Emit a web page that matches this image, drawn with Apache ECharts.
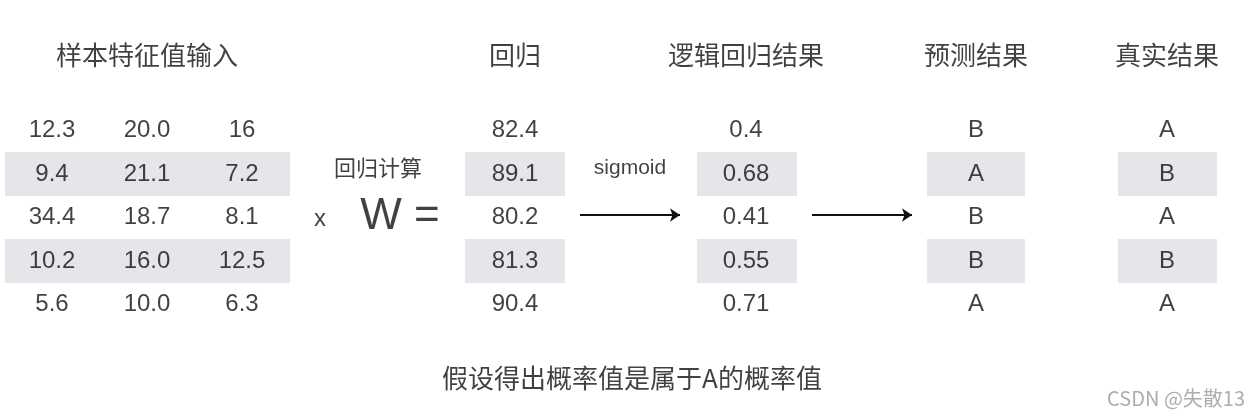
<!DOCTYPE html>
<html><head><meta charset="utf-8">
<script src="https://cdn.jsdelivr.net/npm/echarts@6/dist/echarts.min.js"></script>
<style>html,body{margin:0;padding:0;background:#fff}#c{width:1251px;height:420px}</style>
</head><body><div id="c"></div>
<script>
// ---- data ----
const headers = ['样本特征值输入','回归','逻辑回归结果','预测结果','真实结果'];
const features = [['12.3','20.0','16'],['9.4','21.1','7.2'],['34.4','18.7','8.1'],['10.2','16.0','12.5'],['5.6','10.0','6.3']];
const regression = ['82.4','89.1','80.2','81.3','90.4'];
const logistic = ['0.4','0.68','0.41','0.55','0.71'];
const predicted = ['B','A','B','B','A'];
const actual = ['A','B','A','B','A'];
const caption = '假设得出概率值是属于A的概率值';

// ---- layout (pixel space of hidden axes) ----
const featX = [52,147,242], regX = 515, logX = 746, predX = 976, actX = 1167;
const headerX = [147, 515, 746, 976, 1167];
const rowY = [130,174,217,261,304], rowH = 44;
const bands = [[5,290],[465,565],[697,797],[927,1025],[1118,1217]];
const FONT = '"Liberation Sans","Noto Sans CJK SC",sans-serif';
const CJK = '"Noto Sans CJK SC",sans-serif';

const cells = [];
features.forEach((r,i)=>r.forEach((v,j)=>cells.push([featX[j],rowY[i],v])));
regression.forEach((v,i)=>cells.push([regX,rowY[i],v]));
logistic.forEach((v,i)=>cells.push([logX,rowY[i],v]));
predicted.forEach((v,i)=>cells.push([predX,rowY[i],v]));
actual.forEach((v,i)=>cells.push([actX,rowY[i],v]));

const bandData = [];
[1,3].forEach(r=>bands.forEach(b=>bandData.push([b[0],b[1],rowY[r]])));

const chart = echarts.init(document.getElementById('c'));
chart.setOption({
  animation:false,
  grid:{left:0,right:0,top:0,bottom:0},
  xAxis:{type:'value',min:0,max:1251,show:false},
  yAxis:{type:'value',min:0,max:420,inverse:true,show:false},
  series:[
    {type:'custom',silent:true,data:bandData,renderItem:(p,api)=>{
      const a=api.coord([api.value(0),api.value(2)-rowH/2]);
      const b=api.coord([api.value(1),api.value(2)+rowH/2]);
      return {type:'rect',shape:{x:a[0],y:a[1],width:b[0]-a[0],height:b[1]-a[1]},style:{fill:'#e5e5ea'}};
    }},
    {type:'scatter',symbolSize:0,data:cells,label:{show:true,position:'inside',formatter:p=>p.data[2],fontSize:24,color:'#111',fontFamily:FONT}},
    {type:'scatter',symbolSize:0,data:headers.map((h,i)=>[headerX[i],55,h]),label:{show:true,position:'inside',formatter:p=>p.data[2],fontSize:26,color:'#111',fontFamily:CJK}},
    {type:'scatter',symbolSize:0,data:[
        {value:[378,168,'回归计算'],label:{fontSize:22,fontFamily:CJK}},
        {value:[320,219,'x'],label:{fontSize:24}},
        {value:[400,217,'W ='],label:{fontSize:44}},
        {value:[630,168,'sigmoid'],label:{fontSize:21}},
        {value:[632,378,caption],label:{fontSize:26,fontFamily:CJK}},
        {value:[1245,398,'CSDN @失散13'],label:{fontSize:20,color:'#999',align:'right',fontFamily:CJK}}
      ],label:{show:true,position:'inside',formatter:p=>p.data.value[2],color:'#111',fontFamily:FONT}},
    {type:'lines',coordinateSystem:'cartesian2d',symbol:['none','arrow'],symbolSize:10,
      lineStyle:{color:'#111',width:2,opacity:1},
      data:[{coords:[[580,215],[680,215]]},{coords:[[812,215],[912,215]]}]}
  ]
});
</script></body></html>
